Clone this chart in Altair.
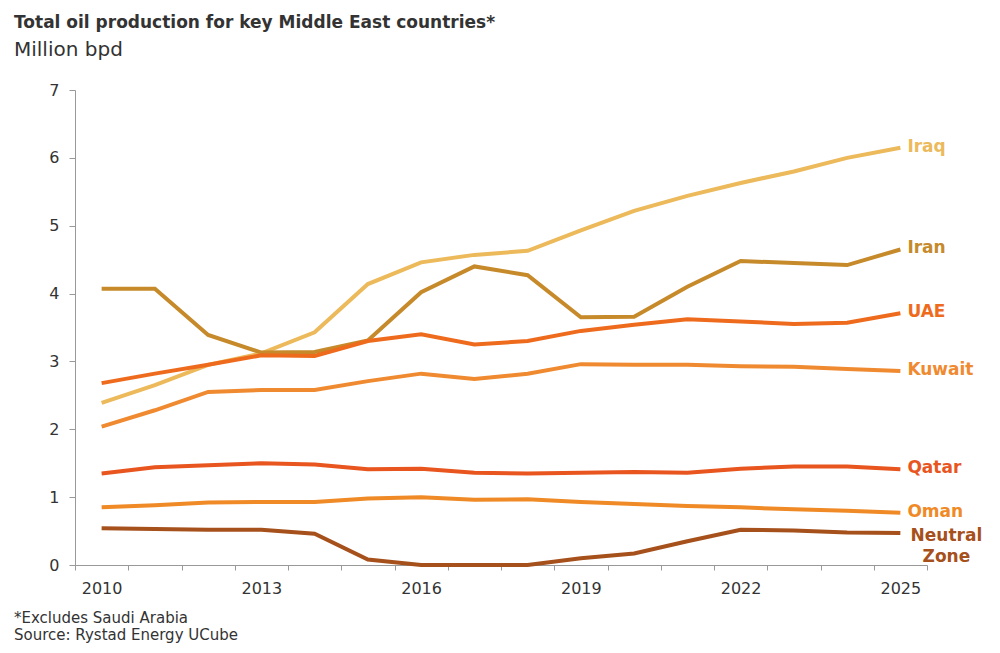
import altair as alt
import pandas as pd

years = list(range(2010, 2026))

iraq = [2.39, 2.65, 2.95, 3.12, 3.43, 4.14, 4.46, 4.57, 4.63, 4.93, 5.22, 5.44, 5.63, 5.80, 6.00, 6.15]
iran = [4.07, 4.07, 3.39, 3.13, 3.14, 3.31, 4.02, 4.40, 4.27, 3.65, 3.66, 4.10, 4.48, 4.45, 4.42, 4.65]
uae = [2.68, 2.82, 2.95, 3.09, 3.08, 3.30, 3.40, 3.25, 3.30, 3.45, 3.54, 3.62, 3.59, 3.55, 3.57, 3.71]
kuwait = [2.04, 2.28, 2.55, 2.58, 2.58, 2.71, 2.82, 2.74, 2.82, 2.96, 2.95, 2.95, 2.93, 2.92, 2.89, 2.86]
qatar = [1.35, 1.44, 1.47, 1.50, 1.48, 1.41, 1.42, 1.36, 1.35, 1.36, 1.37, 1.36, 1.42, 1.45, 1.45, 1.41]
oman = [0.85, 0.88, 0.92, 0.93, 0.93, 0.98, 1.00, 0.96, 0.97, 0.93, 0.90, 0.87, 0.85, 0.82, 0.80, 0.77]
neutral = [0.54, 0.53, 0.52, 0.52, 0.46, 0.08, 0.00, 0.00, 0.00, 0.10, 0.17, 0.35, 0.52, 0.51, 0.48, 0.47]

countries = ["Iraq", "Iran", "UAE", "Kuwait", "Qatar", "Oman", "Neutral Zone"]
series = [iraq, iran, uae, kuwait, qatar, oman, neutral]
colors = ["#ECB95B", "#C68A2B", "#EE6B1E", "#F08A30", "#E8551E", "#EF8A26", "#A6501C"]
label_texts = ["Iraq", "Iran", "UAE", "Kuwait", "Qatar", "Oman", "Neutral\nZone"]

rows = []
for c, vals in zip(countries, series):
    for y, v in zip(years, vals):
        rows.append({"country": c, "year": y, "value": v})
df = pd.DataFrame(rows)

lab = pd.DataFrame({
    "country": countries,
    "label": label_texts,
    "year": [years[-1]] * len(countries),
    "value": [s[-1] for s in series],
})

FONT = "DejaVu Sans"
color_scale = alt.Scale(domain=countries, range=colors)

x_enc = alt.X(
    "year:Q",
    scale=alt.Scale(domain=[2009.5, 2025.5], nice=False, zero=False),
    axis=alt.Axis(
        title=None,
        values=[2009.5 + i for i in range(17)],
        labelExpr="((datum.value + 0.5 - 2010) % 3 == 0 && datum.value < 2025) ? toString(datum.value + 0.5) : ''",
        labelOffset=26.6,
        labelFlush=False,
        labelBound=False,
        labelOverlap=False,
        tickSize=5,
        labelPadding=10,
        domainColor="#999999",
        tickColor="#999999",
        labelColor="#333333",
        labelFontSize=16,
        labelFont=FONT,
        grid=False,
    ),
)
y_enc = alt.Y(
    "value:Q",
    scale=alt.Scale(domain=[0, 7], nice=False),
    axis=alt.Axis(
        title=None,
        values=list(range(0, 8)),
        format="d",
        tickSize=6,
        labelPadding=10,
        domainColor="#999999",
        tickColor="#999999",
        labelColor="#333333",
        labelFontSize=16,
        labelFont=FONT,
        grid=False,
    ),
)

lines = alt.Chart(df).mark_line(strokeWidth=4).encode(
    x=x_enc,
    y=y_enc,
    color=alt.Color("country:N", scale=color_scale, legend=None),
    detail="country:N",
)

labels_single = alt.Chart(lab).transform_filter(
    "datum.country != 'Neutral Zone'"
).mark_text(
    align="left", baseline="middle", dx=7, dy=-1, font=FONT, fontSize=17, fontWeight="bold"
).encode(
    x="year:Q", y="value:Q", text="label:N",
    color=alt.Color("country:N", scale=color_scale, legend=None),
)

labels_nz = alt.Chart(lab).transform_filter(
    "datum.country == 'Neutral Zone'"
).mark_text(
    align="center", baseline="middle", dx=46, dy=3, lineBreak="\n", lineHeight=21,
    font=FONT, fontSize=17, fontWeight="bold"
).encode(
    x="year:Q", y="value:Q", text="label:N",
    color=alt.Color("country:N", scale=color_scale, legend=None),
)

foot = alt.Chart(pd.DataFrame({"t": ["*Excludes Saudi Arabia\nSource: Rystad Energy UCube"]})).mark_text(
    align="left", baseline="alphabetic", lineBreak="\n", lineHeight=17.5,
    font=FONT, fontSize=15, color="#333333"
).encode(x=alt.value(-61), y=alt.value(532.7), text="t:N")

chart = alt.layer(lines, labels_single, labels_nz, foot).properties(
    width=852,
    height=475,
    background="white",
    autosize=alt.AutoSizeParams(type="none"),
    padding={"left": 67, "top": 82, "right": 65, "bottom": 80},
    title=alt.TitleParams(
        text="Total oil production for key Middle East countries*",
        subtitle="Million bpd",
        anchor="start",
        frame="group",
        dx=-61,
        font=FONT,
        fontSize=17,
        fontWeight="bold",
        color="#333333",
        subtitleFont=FONT,
        subtitleFontSize=20,
        subtitleColor="#333333",
        subtitlePadding=8,
        offset=21,
    ),
).configure_view(strokeWidth=0, stroke="transparent")

chart.save("out.html", embed_options={"renderer": "svg", "actions": False})
